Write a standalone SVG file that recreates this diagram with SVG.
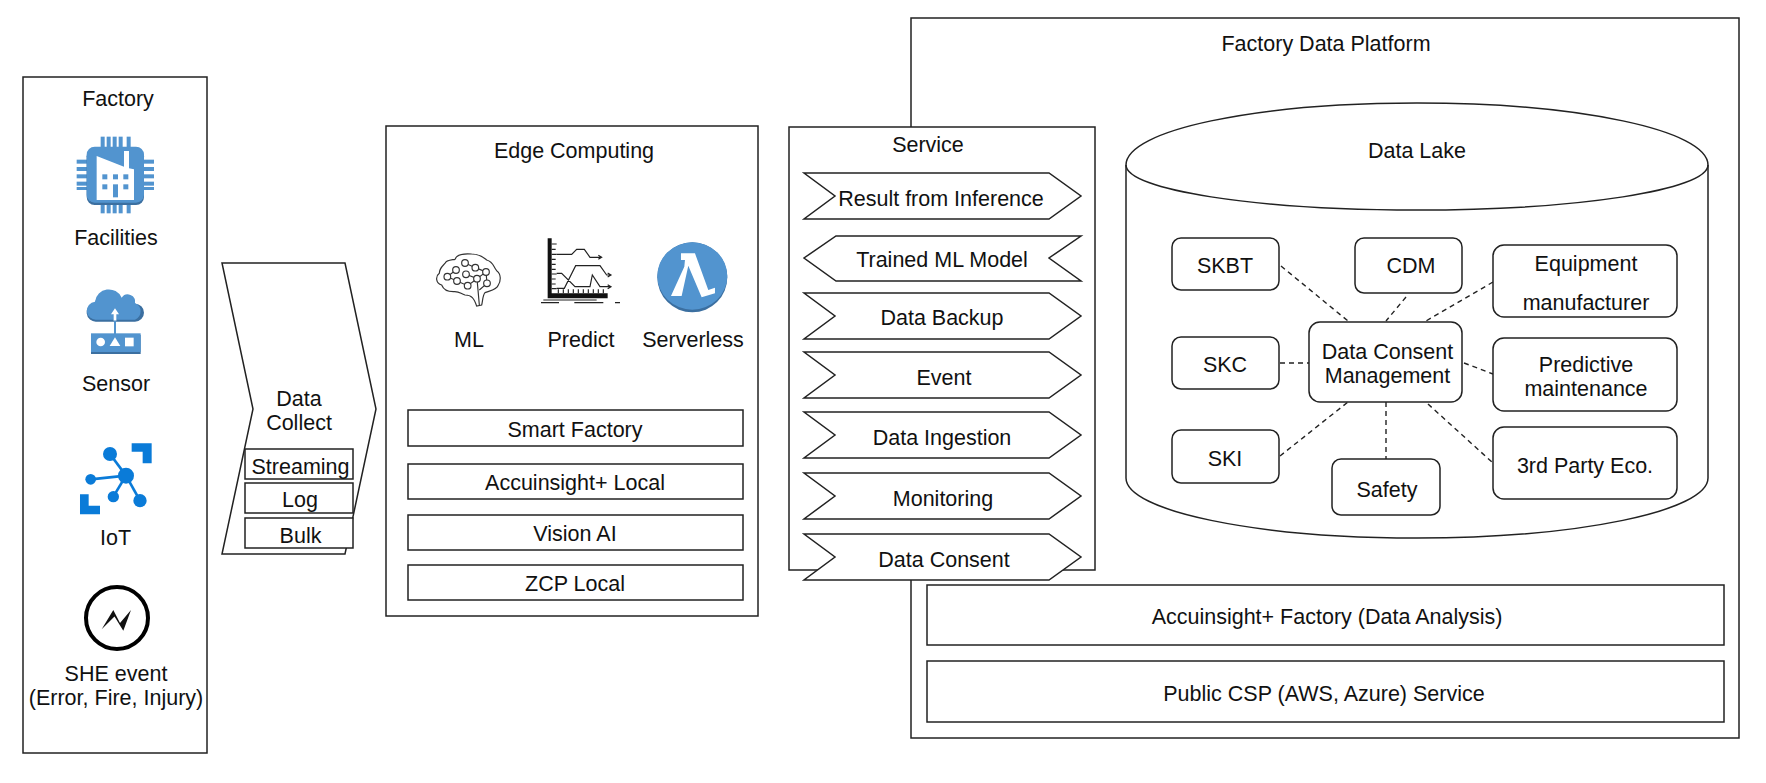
<svg xmlns="http://www.w3.org/2000/svg" width="1766" height="783" viewBox="0 0 1766 783">
<style>
text{font-family:"Liberation Sans",Arial,sans-serif;font-size:21.5px;fill:#111;text-anchor:middle}
.b{fill:#fff;stroke:#222;stroke-width:1.5}
.l{fill:none;stroke:#222;stroke-width:1.5}
.d{fill:none;stroke:#222;stroke-width:1.4;stroke-dasharray:5 4}
.aws{fill:#5294cf}
.awd{fill:#3b6fa0}
.az{fill:#0a7bd8}
.ic{fill:none;stroke:#333;stroke-width:3.5}
.bk{fill:none;stroke:#222;stroke-width:3.5}
</style>
<defs>
<polygon id="chevR" points="0,0 245,0 277,23 245,46 0,46 31,23" class="b"/>
<polygon id="chevL" points="32,0 277,0 245,22 277,45 32,45 0,22" class="b"/>
</defs>
<g id="factory">
<rect class="b" x="23" y="77" width="184" height="676"/>
<text x="118" y="106">Factory</text>
<g id="icon-facilities" transform="translate(65,125) scale(.3333)">
<g class="aws"><rect x="107" y="35" width="12" height="40"/><rect x="125" y="35" width="12" height="40"/><rect x="143" y="35" width="12" height="40"/><rect x="161" y="35" width="12" height="40"/><rect x="185" y="35" width="12" height="40"/>
<rect x="107" y="225" width="12" height="40"/><rect x="125" y="225" width="12" height="40"/><rect x="143" y="225" width="12" height="40"/><rect x="161" y="225" width="12" height="40"/><rect x="185" y="225" width="12" height="40"/>
<rect x="35" y="104" width="40" height="12"/><rect x="35" y="126" width="40" height="12"/><rect x="35" y="148" width="40" height="12"/><rect x="35" y="170" width="40" height="12"/><rect x="35" y="186" width="40" height="9"/>
<rect x="227" y="104" width="40" height="12"/><rect x="227" y="126" width="40" height="12"/><rect x="227" y="148" width="40" height="12"/><rect x="227" y="170" width="40" height="12"/><rect x="227" y="186" width="40" height="9"/></g>
<rect class="awd" x="65" y="70" width="172" height="170" rx="24"/>
<rect class="aws" x="65" y="65" width="172" height="168" rx="24"/>
<polygon fill="#fff" points="95,93 177,125 177,78 192,78 192,130 207,133 207,225 95,225"/>
<g class="aws"><rect x="112" y="148" width="15" height="15"/><rect x="144" y="148" width="15" height="15"/><rect x="175" y="148" width="15" height="15"/><rect x="112" y="178" width="15" height="15"/><rect x="144" y="178" width="15" height="39"/><rect x="175" y="178" width="15" height="15"/></g>
</g>
<text x="116" y="245">Facilities</text>
<g id="icon-sensor" transform="translate(70,275) scale(.3333)">
<path class="awd" d="M80,140 H195 A27,27 0 0 0 195,86 A22,22 0 0 0 155,72 A42,42 0 0 0 75,85 A27,27 0 0 0 80,140Z"/>
<path class="aws" d="M80,134 H195 A27,27 0 0 0 195,84 A22,22 0 0 0 155,68 A42,42 0 0 0 75,80 A27,27 0 0 0 80,134Z"/>
<polygon fill="#fff" points="135,100 147,118 139,118 139,137 131,137 131,118 123,118"/>
<rect class="aws" x="132" y="137" width="6" height="40"/>
<rect class="awd" x="63" y="180" width="149" height="57"/>
<rect class="aws" x="63" y="175" width="149" height="56"/>
<circle cx="92" cy="201" r="13" fill="#fff"/><polygon fill="#fff" points="135,187 151,213 119,213"/><rect x="165" y="188" width="26" height="26" fill="#fff"/>
</g>
<text x="116" y="391">Sensor</text>
<g id="icon-iot" transform="translate(70,435) scale(.3333)">
<polygon class="az" points="185,25 245,25 245,85 218,85 218,50 185,50"/>
<polygon class="az" points="30,178 56,178 56,212 90,212 90,238 30,238"/>
<g stroke="#0a7bd8" stroke-width="8"><line x1="168" y1="122" x2="120" y2="57"/><line x1="168" y1="122" x2="62" y2="133"/><line x1="168" y1="122" x2="130" y2="185"/><line x1="168" y1="122" x2="210" y2="197"/></g>
<g class="az"><circle cx="168" cy="122" r="24"/><circle cx="120" cy="57" r="21"/><circle cx="62" cy="133" r="16"/><circle cx="130" cy="185" r="17"/><circle cx="210" cy="197" r="20"/></g>
</g>
<text x="115.500" y="545">IoT</text>
<g id="icon-she">
<circle cx="117" cy="618" r="31" fill="#fff" stroke="#000" stroke-width="4"/>
<polygon fill="#111" points="101.700,629.300 113.300,610 120,623 131,610 123.300,630.700 114.500,616.500"/>
</g>
<text x="116" y="681">SHE event</text>
<text x="116" y="705">(Error, Fire, Injury)</text>
</g>
<g id="data-collect">
<polygon class="b" points="222,263 345,263 376,409 345,554 222,554 253,409"/>
<text x="299" y="406">Data</text>
<text x="299" y="430">Collect</text>
<g id="streaming"><rect class="b" x="245" y="449" width="108" height="30"/><text x="300.500" y="474">Streaming</text></g>
<g id="log"><rect class="b" x="245" y="483" width="108" height="30"/><text x="300" y="507">Log</text></g>
<g id="bulk"><rect class="b" x="245" y="518" width="108" height="30"/><text x="300.500" y="543">Bulk</text></g>
</g>
<g id="edge">
<rect class="b" x="386" y="126" width="372" height="490"/>
<text x="574" y="158">Edge Computing</text>
<g id="icon-ml" transform="translate(430,230) scale(.3333)">
<path class="ic" d="M140,228 C132,205 125,195 105,195 C90,190 88,183 70,185 C50,185 40,178 35,165 C18,160 15,140 28,130 C28,115 38,108 45,100 C48,90 65,90 75,88 C80,73 100,70 125,72 C150,72 160,82 170,90 C190,95 190,110 200,122 C215,132 212,155 205,165 C200,180 180,182 165,188 C158,195 158,215 155,225Z"/>
<path class="ic" d="M148,225 L141,146 M148,180 L171,160 M105,99 L136,113 L168,126 L141,146 L108,133 M78,120 L52,140 L81,153 L113,167 L141,146 M171,160 L168,126"/>
<g fill="#fff" stroke="#333" stroke-width="3.500"><circle cx="105" cy="99" r="10"/><circle cx="136" cy="113" r="10"/><circle cx="168" cy="126" r="10"/><circle cx="78" cy="120" r="10"/><circle cx="108" cy="133" r="10"/><circle cx="141" cy="146" r="10"/><circle cx="171" cy="160" r="10"/><circle cx="52" cy="140" r="10"/><circle cx="81" cy="153" r="10"/><circle cx="113" cy="167" r="10"/></g>
</g>
<text x="469" y="347">ML</text>
<g id="icon-predict" transform="translate(535,230) scale(.3333)">
<path fill="#111" d="M38,25 H50 V190 H218 V205 H38Z"/>
<path class="bk" d="M50,42 H65 M50,58 H62 M50,73 H65 M50,88 H62 M50,103 H62 M50,118 H62 M50,132 H65 M50,147 H62 M50,162 H62 M50,176 H65 M70,190 V178 M85,190 V178 M100,190 V178 M115,190 V178 M130,190 V178 M145,190 V178 M160,190 V178 M175,190 V178 M190,190 V178 M205,190 V178"/>
<path class="bk" d="M65,73 H110 L125,58 H148 L165,82 H198 M190,76 L200,82 L190,88 M65,175 H88 L122,107 H195 L215,135 H226 M218,129 L228,135 L218,141 M65,130 H80 L120,170 H165 L172,135 L195,170 H226 M218,164 L228,170 L218,176"/>
<path class="bk" d="M25,210 H185 M18,218 H72 M118,218 H205 M240,218 H255"/>
</g>
<text x="581" y="347">Predict</text>
<g id="icon-serverless" transform="translate(380,110) scale(.3333)">
<circle class="awd" cx="937" cy="502" r="105"/>
<ellipse class="aws" cx="937" cy="498" rx="105" ry="101"/>
<polygon fill="#fff" points="903,430 945,430 985,540 1005,533 1005,550 965,562 925,467 905,558 873,558 913,470 915,450 903,450"/>
</g>
<text x="693" y="347">Serverless</text>
<g id="smart-factory"><rect class="b" x="408" y="410" width="335" height="36"/><text x="575" y="437">Smart Factory</text></g>
<g id="accuinsight-local"><rect class="b" x="408" y="464" width="335" height="35"/><text x="575" y="490">Accuinsight+ Local</text></g>
<g id="vision-ai"><rect class="b" x="408" y="515" width="335" height="35"/><text x="575" y="541">Vision AI</text></g>
<g id="zcp-local"><rect class="b" x="408" y="565" width="335" height="35"/><text x="575" y="591">ZCP Local</text></g>
</g>
<g id="platform">
<rect class="b" x="911" y="18" width="828" height="720"/>
<text x="1326" y="51">Factory Data Platform</text>
<g id="accuinsight-factory"><rect class="b" x="927" y="585" width="797" height="60"/><text x="1327" y="624">Accuinsight+ Factory (Data Analysis)</text></g>
<g id="public-csp"><rect class="b" x="927" y="661" width="797" height="61"/><text x="1324" y="701">Public CSP (AWS, Azure) Service</text></g>
</g>
<g id="service">
<rect class="b" x="789" y="127" width="306" height="443"/>
<text x="928" y="152">Service</text>
<g id="svc-result"><use href="#chevR" x="804" y="173"/><text x="941" y="206">Result from Inference</text></g>
<g id="svc-trained"><use href="#chevL" x="804" y="236"/><text x="942" y="267">Trained ML Model</text></g>
<g id="svc-backup"><use href="#chevR" x="804" y="293"/><text x="942" y="325">Data Backup</text></g>
<g id="svc-event"><use href="#chevR" x="804" y="352"/><text x="944" y="385">Event</text></g>
<g id="svc-ingestion"><use href="#chevR" x="804" y="412"/><text x="942" y="445">Data Ingestion</text></g>
<g id="svc-monitoring"><use href="#chevR" x="804" y="473"/><text x="943" y="506">Monitoring</text></g>
<g id="svc-consent"><use href="#chevR" x="804" y="534"/><text x="944" y="567">Data Consent</text></g>
</g>
<g id="data-lake">
<path class="b" d="M1126,165 C1126,130 1256,103 1417,103 C1578,103 1708,130 1708,165 V478 C1708,511 1578,538 1417,538 C1256,538 1126,511 1126,478Z"/>
<path class="l" d="M1126,165 C1126,190 1256,210 1417,210 C1578,210 1708,190 1708,165"/>
<text x="1417" y="158">Data Lake</text>
</g>
<g id="connectors">
<line class="d" x1="1281" y1="266" x2="1348" y2="321"/>
<line class="d" x1="1406" y1="297" x2="1386" y2="321"/>
<line class="d" x1="1493" y1="282" x2="1426" y2="321"/>
<line class="d" x1="1280" y1="363" x2="1309" y2="363"/>
<line class="d" x1="1464" y1="363" x2="1493" y2="374"/>
<line class="d" x1="1280" y1="456" x2="1348" y2="402"/>
<line class="d" x1="1386" y1="402" x2="1386" y2="459"/>
<line class="d" x1="1428" y1="404" x2="1493" y2="463"/>
</g>
<g id="skbt"><rect class="b" x="1172" y="238" width="107" height="52" rx="9"/><text x="1225" y="273">SKBT</text></g>
<g id="cdm"><rect class="b" x="1355" y="238" width="107" height="55" rx="9"/><text x="1411" y="273">CDM</text></g>
<g id="equipment"><rect class="b" x="1493" y="245" width="184" height="72" rx="11"/><text x="1586" y="271">Equipment</text><text x="1586" y="310">manufacturer</text></g>
<g id="dcm"><rect class="b" x="1309" y="322" width="153" height="80" rx="11"/><text x="1387.500" y="359">Data Consent</text><text x="1387.500" y="383">Management</text></g>
<g id="skc"><rect class="b" x="1172" y="337" width="107" height="52" rx="9"/><text x="1225" y="372">SKC</text></g>
<g id="predictive"><rect class="b" x="1493" y="338" width="184" height="73" rx="11"/><text x="1586" y="372">Predictive</text><text x="1586" y="396">maintenance</text></g>
<g id="ski"><rect class="b" x="1172" y="430" width="107" height="53" rx="9"/><text x="1225" y="466">SKI</text></g>
<g id="safety"><rect class="b" x="1332" y="459" width="108" height="56" rx="9"/><text x="1387" y="497">Safety</text></g>
<g id="third-party"><rect class="b" x="1493" y="427" width="184" height="72" rx="11"/><text x="1585" y="473">3rd Party Eco.</text></g>
</svg>
